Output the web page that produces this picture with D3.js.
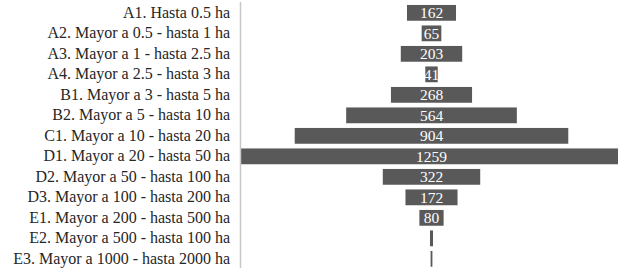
<!DOCTYPE html>
<html>
<head>
<meta charset="utf-8">
<script src="https://cdn.jsdelivr.net/npm/d3@7/dist/d3.min.js"></script>
<style>
  body { margin: 0; background: #fff; }
  svg { display: block; }
</style>
</head>
<body>
<div id="chart"></div>
<script>
var categories = [
  "A1. Hasta 0.5 ha",
  "A2. Mayor a 0.5 - hasta 1 ha",
  "A3. Mayor a 1 - hasta 2.5 ha",
  "A4. Mayor a 2.5 - hasta 3 ha",
  "B1. Mayor a 3 - hasta 5 ha",
  "B2. Mayor a 5 - hasta 10 ha",
  "C1. Mayor a 10 - hasta 20 ha",
  "D1. Mayor a 20 - hasta 50 ha",
  "D2. Mayor a 50 - hasta 100 ha",
  "D3. Mayor a 100 - hasta 200 ha",
  "E1. Mayor a 200 - hasta 500 ha",
  "E2. Mayor a 500 - hasta 100 ha",
  "E3. Mayor a 1000 - hasta 2000 ha"
];
var values = [162, 65, 203, 41, 268, 564, 904, 1259, 322, 172, 80, 10, 6];
var shownLabels = [true, true, true, true, true, true, true, true, true, true, true, false, false];

var width = 618, height = 269;
var left = 241, right = 622;
var center = (left + right) / 2;
var serif = "'Liberation Serif', serif";

var svg = d3.select("#chart").append("svg")
  .attr("width", width)
  .attr("height", height);

var y = d3.scaleBand()
  .domain(categories)
  .range([2.6, 269.1])
  .paddingInner(0.23)
  .paddingOuter(0.115);

var w = d3.scaleLinear()
  .domain([0, d3.max(values)])
  .range([0, right - left]);

var rows = categories.map(function (c, i) {
  return { cat: c, val: values[i], show: shownLabels[i] };
});

svg.selectAll("rect.bar")
  .data(rows)
  .enter().append("rect")
  .attr("class", "bar")
  .attr("x", function (d) { return center - w(d.val) / 2; })
  .attr("y", function (d) { return y(d.cat); })
  .attr("width", function (d) { return w(d.val); })
  .attr("height", y.bandwidth())
  .attr("fill", "#595959");

svg.selectAll("text.val")
  .data(rows.filter(function (d) { return d.show; }))
  .enter().append("text")
  .attr("class", "val")
  .attr("x", center)
  .attr("y", function (d) { return y(d.cat) + y.bandwidth() / 2; })
  .attr("dy", "0.36em")
  .attr("text-anchor", "middle")
  .attr("fill", "#ffffff")
  .style("font-family", serif)
  .style("font-size", "15.5px")
  .text(function (d) { return d.val; });

var axis = d3.axisLeft(y).tickSize(0).tickPadding(10.5);
var g = svg.append("g")
  .attr("transform", "translate(240.5,0)")
  .call(axis);
g.select(".domain").remove();
g.selectAll("text")
  .attr("fill", "#262626")
  .style("font-family", serif)
  .style("font-size", "16px");

svg.append("line")
  .attr("x1", 240.5).attr("x2", 240.5)
  .attr("y1", 2).attr("y2", 268)
  .attr("stroke", "#c8c8c8")
  .attr("stroke-width", 1.5);
</script>
</body>
</html>
